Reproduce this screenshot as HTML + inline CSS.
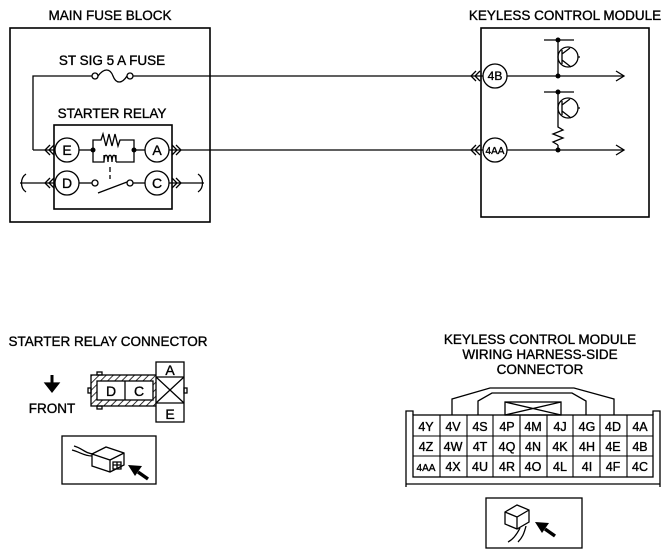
<!DOCTYPE html>
<html><head><meta charset="utf-8"><style>
html,body{margin:0;padding:0;background:#fff}
svg{display:block}
text{font-family:"Liberation Sans",sans-serif;fill:#000;stroke:#000;stroke-width:0.35}
</style></head><body>
<svg width="670" height="556" viewBox="0 0 670 556" xmlns="http://www.w3.org/2000/svg">
<defs>
<pattern id="h" width="5" height="5" patternUnits="userSpaceOnUse" patternTransform="rotate(45)"><line x1="0" y1="0" x2="0" y2="5" stroke="#000" stroke-width="1.6"/></pattern>
</defs>
<g stroke="#000" fill="none" stroke-width="1.3">
<rect x="10" y="28" width="200" height="194" stroke-width="1.6"/>
<polyline points="33,150 33,76 92,76"/>
<circle cx="95" cy="76" r="3" fill="#fff"/>
<path d="M98,76 C104,68 110,68 113,76 C116,84 122,84 127,76"/>
<circle cx="130" cy="76" r="3" fill="#fff"/>
<line x1="133" y1="76" x2="484" y2="76"/>
<rect x="54" y="125" width="118" height="84" stroke-width="1.6"/>
<line x1="33" y1="150" x2="55" y2="150"/>
<circle cx="67" cy="150" r="12" fill="#fff"/>
<circle cx="67" cy="183" r="12" fill="#fff"/>
<circle cx="157" cy="150" r="12" fill="#fff"/>
<circle cx="157" cy="183" r="12" fill="#fff"/>
<path d="M50,145 l-5,5 l5,5 M54,145 l-5,5 l5,5"/>
<path d="M50,178 l-5,5 l5,5 M54,178 l-5,5 l5,5"/>
<path d="M172,145 l5,5 l-5,5 M176,145 l5,5 l-5,5"/>
<path d="M172,178 l5,5 l-5,5 M176,178 l5,5 l-5,5"/>
<line x1="20" y1="183" x2="55" y2="183"/>
<path d="M26,174 c-6,4 -6,14 0,18"/>
<line x1="169" y1="183" x2="204" y2="183"/>
<path d="M198,174 c6,4 6,14 0,18"/>
<line x1="169" y1="150" x2="484" y2="150"/>
<line x1="79" y1="150" x2="93" y2="150"/>
<line x1="134" y1="150" x2="145" y2="150"/>
<path d="M93,150 V140 H101 L103,134 L106,146 L109,134 L112,146 L115,134 L118,146 L120,140 H134 V150"/>
<path d="M93,150 V162 H104 V155 M104,162 c0,-9 4,-9 4,0 c0,-9 4,-9 4,0 c0,-9 4,-9 4,0 V155 M116,162 H134 V150"/>
<line x1="110" y1="167" x2="110" y2="172"/>
<line x1="110" y1="175" x2="110" y2="179"/>
<line x1="79" y1="183" x2="92" y2="183"/>
<circle cx="95" cy="183" r="3" fill="#fff"/>
<line x1="98" y1="193" x2="127" y2="182"/>
<circle cx="130" cy="183" r="3" fill="#fff"/>
<line x1="133" y1="183" x2="145" y2="183"/>
<rect x="481" y="28" width="168" height="189" stroke-width="1.6"/>
<path d="M476,71 l-5,5 l5,5 M480,71 l-5,5 l5,5"/>
<path d="M476,145 l-5,5 l5,5 M480,145 l-5,5 l5,5"/>
<circle cx="495" cy="76" r="12" fill="#fff"/>
<circle cx="495" cy="150" r="12" fill="#fff"/>
<line x1="507" y1="76" x2="624" y2="76"/>
<path d="M616,71 l8,5 l-8,5"/>
<line x1="507" y1="150" x2="624" y2="150"/>
<path d="M616,145 l8,5 l-8,5"/>
<line x1="544" y1="40" x2="574" y2="40"/>
<line x1="558" y1="40" x2="558" y2="76"/>
<circle cx="568" cy="57" r="10"/>
<path d="M562,50 v14 M562,54 l8,-6 M562,60 l9,7 M578,57 h2"/>
<line x1="544" y1="92" x2="574" y2="92"/>
<line x1="558" y1="92" x2="558" y2="124"/>
<line x1="558" y1="145" x2="558" y2="150"/>
<circle cx="568" cy="108" r="10"/>
<path d="M562,101 v14 M562,105 l8,-6 M562,111 l9,7 M578,108 h2"/>
<path d="M558,124 V127 L563,130 L553,134 L563,138 L553,142 L558,145"/>
<path d="M52,375 v10" stroke-width="3"/>
<path d="M45,383 h14 l-7,9 z" fill="#000"/>
<rect x="91" y="375" width="66" height="31" fill="url(#h)"/>
<rect x="97" y="381" width="56" height="19" fill="#fff"/>
<line x1="125" y1="381" x2="125" y2="400"/>
<rect x="97" y="372" width="5" height="3"/>
<rect x="97" y="406" width="5" height="3"/>
<rect x="88" y="388" width="3" height="5"/>
<rect x="156" y="362" width="28" height="60" fill="#fff"/>
<line x1="156" y1="377" x2="184" y2="377"/>
<line x1="156" y1="403" x2="184" y2="403"/>
<path d="M156,377 L184,403 M184,377 L156,403"/>
<rect x="184" y="388" width="3" height="5"/>
<rect x="62" y="436" width="94" height="48"/>
<path d="M72,450 c8,2 12,6 20,6 M74,446 c8,2 12,8 20,8"/>
<path d="M92,454 l14,-7 l18,6 v12 l-14,7 l-18,-6 z M92,454 l18,6 l14,-7 M110,460 v12"/>
<path d="M113,462 h8 v7 h-8z M117,462 v7 M113,465 h8"/>
<path d="M148,479 l-10,-7" stroke-width="3.5"/>
<path d="M128,465 l14,1 l-7,10 z" fill="#000" stroke="none"/>
<polyline points="406,487 406,411 413,411 413,415"/>
<polyline points="660,487 660,411 653,411 653,415"/>
<line x1="406" y1="484" x2="660" y2="484"/>
<rect x="413" y="415" width="240" height="62"/>
<polyline points="452,415 452,399 490,388 574,388 614,399 614,415"/>
<polyline points="478,415 478,401 492,393 572,393 586,401 586,415"/>
<rect x="505" y="402" width="56" height="13"/>
<path d="M505,402 L561,415 M561,402 L505,415"/>
<rect x="486" y="498" width="96" height="50"/>
<path d="M505,512 l12,-7 l12,5 v12 l-12,7 l-12,-5 z M505,512 l12,5 l12,-7 M517,517 v12"/>
<path d="M520,528 c-4,8 -8,12 -12,14 M526,526 c-2,8 -4,12 -8,16"/>
<path d="M555,536 l-10,-7" stroke-width="3.5"/>
<path d="M535,522 l14,1 l-7,10 z" fill="#000" stroke="none"/>
</g>
<g fill="#000">
<circle cx="93" cy="150" r="2.5"/><circle cx="134" cy="150" r="2.5"/>
<circle cx="558" cy="40" r="2.5"/><circle cx="558" cy="76" r="2.5"/>
<circle cx="558" cy="92" r="2.5"/><circle cx="558" cy="150" r="2.5"/>
</g>
<g stroke="#000" stroke-width="1.1">
<line x1="440" y1="415" x2="440" y2="477"/><line x1="467" y1="415" x2="467" y2="477"/>
<line x1="493" y1="415" x2="493" y2="477"/><line x1="520" y1="415" x2="520" y2="477"/>
<line x1="547" y1="415" x2="547" y2="477"/><line x1="573" y1="415" x2="573" y2="477"/>
<line x1="600" y1="415" x2="600" y2="477"/><line x1="627" y1="415" x2="627" y2="477"/>
<line x1="413" y1="436" x2="653" y2="436"/><line x1="413" y1="456" x2="653" y2="456"/>
</g>
<g font-size="13.5" text-anchor="middle">
<text x="110" y="20">MAIN FUSE BLOCK</text>
<text x="112" y="65">ST SIG 5 A FUSE</text>
<text x="112" y="118">STARTER RELAY</text>
<text x="565" y="20">KEYLESS CONTROL MODULE</text>
<text x="108" y="346">STARTER RELAY CONNECTOR</text>
<text x="52" y="413">FRONT</text>
<text x="540" y="344">KEYLESS CONTROL MODULE</text>
<text x="540" y="359">WIRING HARNESS-SIDE</text>
<text x="540" y="374">CONNECTOR</text>
<g font-size="14"><text x="67" y="155">E</text><text x="67" y="188">D</text><text x="157" y="155">A</text><text x="157" y="188">C</text>
<text x="111" y="396">D</text><text x="139" y="396">C</text><text x="170" y="375">A</text><text x="170" y="419">E</text></g>
<text x="495" y="80" font-size="12">4B</text>
<text x="495" y="154" font-size="10">4AA</text>
</g>
<g font-size="12.5" text-anchor="middle">
<text x="426" y="431">4Y</text><text x="453" y="431">4V</text><text x="480" y="431">4S</text><text x="507" y="431">4P</text><text x="533" y="431">4M</text><text x="560" y="431">4J</text><text x="587" y="431">4G</text><text x="613" y="431">4D</text><text x="640" y="431">4A</text>
<text x="426" y="451">4Z</text><text x="453" y="451">4W</text><text x="480" y="451">4T</text><text x="507" y="451">4Q</text><text x="533" y="451">4N</text><text x="560" y="451">4K</text><text x="587" y="451">4H</text><text x="613" y="451">4E</text><text x="640" y="451">4B</text>
<text x="426" y="471" font-size="10">4AA</text><text x="453" y="471">4X</text><text x="480" y="471">4U</text><text x="507" y="471">4R</text><text x="533" y="471">4O</text><text x="560" y="471">4L</text><text x="587" y="471">4I</text><text x="613" y="471">4F</text><text x="640" y="471">4C</text>
</g>
</svg>
</body></html>
